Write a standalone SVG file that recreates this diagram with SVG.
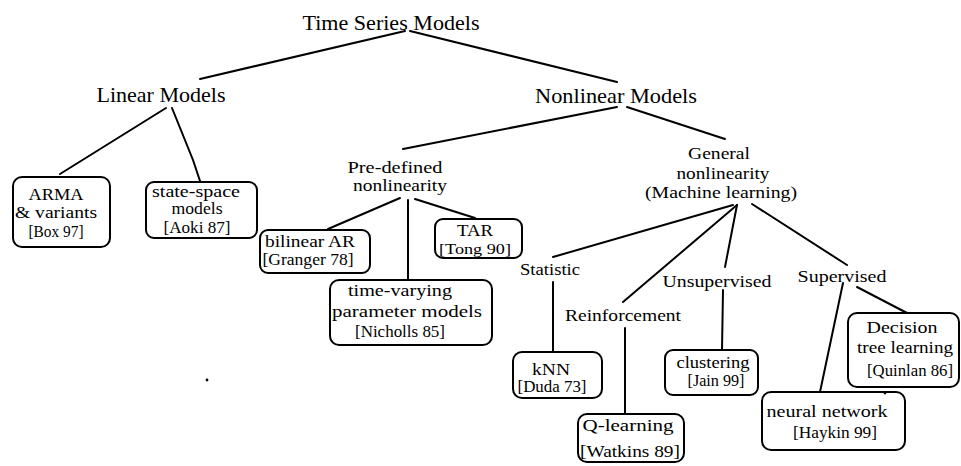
<svg xmlns="http://www.w3.org/2000/svg" width="961" height="466" viewBox="0 0 961 466">
  <style>
    text { font-family: "Liberation Serif", "Times New Roman", serif; fill: #000; text-anchor: middle; }
    .big { font-size: 21px; }
    .lbl { font-size: 17px; }
    .box text { font-size: 16px; }
    .box text.sm { font-size: 14px; }
    .box rect { fill: #fff; stroke: #000; stroke-width: 2; }
    #connectors line, #connectors polyline { stroke: #000; stroke-width: 2; fill: none; stroke-linecap: round; }
  </style>
  <rect width="961" height="466" fill="#fff"/>

  <!-- connectors -->
  <g id="connectors">
    <line x1="405" y1="31" x2="200" y2="79"/>
    <line x1="410" y1="31" x2="617" y2="82"/>
    <line x1="166" y1="108" x2="60" y2="174"/>
    <polyline points="172,108 193,160 200,181"/>
    <line x1="617" y1="107" x2="403" y2="149"/>
    <line x1="627" y1="107" x2="725" y2="139"/>
    <line x1="400" y1="198" x2="328" y2="229"/>
    <line x1="408" y1="200" x2="408" y2="280"/>
    <line x1="415" y1="199" x2="475" y2="218"/>
    <line x1="733" y1="205" x2="553" y2="257"/>
    <line x1="737" y1="205" x2="623" y2="302"/>
    <line x1="737" y1="205" x2="725" y2="267"/>
    <line x1="752" y1="204" x2="847" y2="265"/>
    <line x1="553" y1="282" x2="553" y2="351"/>
    <line x1="625" y1="328" x2="625" y2="414"/>
    <line x1="723" y1="290" x2="722" y2="350"/>
    <line x1="843" y1="283" x2="820" y2="392"/>
    <line x1="857" y1="287" x2="907" y2="313"/>
  </g>

  <!-- category labels -->
  <g id="root"><text class="big" x="391" y="30" textLength="177" lengthAdjust="spacingAndGlyphs">Time Series Models</text></g>
  <g id="linear"><text class="big" x="161" y="102" textLength="129" lengthAdjust="spacingAndGlyphs">Linear Models</text></g>
  <g id="nonlinear"><text class="big" x="616" y="103" textLength="162" lengthAdjust="spacingAndGlyphs">Nonlinear Models</text></g>
  <g id="predefined">
    <text class="lbl" x="395" y="173" textLength="95" lengthAdjust="spacingAndGlyphs">Pre-defined</text>
    <text class="lbl" x="400" y="191" textLength="94" lengthAdjust="spacingAndGlyphs">nonlinearity</text>
  </g>
  <g id="general">
    <text class="lbl" x="719" y="159" textLength="62" lengthAdjust="spacingAndGlyphs">General</text>
    <text class="lbl" x="723" y="179" textLength="93" lengthAdjust="spacingAndGlyphs">nonlinearity</text>
    <text class="lbl" x="721" y="198" textLength="152" lengthAdjust="spacingAndGlyphs">(Machine learning)</text>
  </g>
  <g id="statistic"><text class="lbl" x="550" y="275" textLength="60" lengthAdjust="spacingAndGlyphs">Statistic</text></g>
  <g id="reinforcement"><text class="lbl" x="623" y="321" textLength="116" lengthAdjust="spacingAndGlyphs">Reinforcement</text></g>
  <g id="unsupervised"><text class="lbl" x="717" y="287" textLength="109" lengthAdjust="spacingAndGlyphs">Unsupervised</text></g>
  <g id="supervised"><text class="lbl" x="842" y="282" textLength="89" lengthAdjust="spacingAndGlyphs">Supervised</text></g>

  <!-- model boxes -->
  <g id="arma" class="box">
    <rect x="13" y="177" width="97" height="70" rx="9"/>
    <text x="56" y="200" textLength="55" lengthAdjust="spacingAndGlyphs">ARMA</text>
    <text x="56" y="218" textLength="82" lengthAdjust="spacingAndGlyphs">&amp; variants</text>
    <text x="56" y="237" textLength="55" lengthAdjust="spacingAndGlyphs">[Box 97]</text>
  </g>
  <g id="state-space" class="box">
    <rect x="146" y="182" width="111" height="56" rx="8"/>
    <text x="196" y="197" textLength="88" lengthAdjust="spacingAndGlyphs">state-space</text>
    <text x="197" y="214" textLength="51" lengthAdjust="spacingAndGlyphs">models</text>
    <text x="197" y="233" textLength="67" lengthAdjust="spacingAndGlyphs">[Aoki 87]</text>
  </g>
  <g id="bilinear" class="box">
    <rect x="260" y="230" width="110" height="43" rx="8"/>
    <text x="310" y="247" textLength="90" lengthAdjust="spacingAndGlyphs">bilinear AR</text>
    <text x="308" y="265" textLength="91" lengthAdjust="spacingAndGlyphs">[Granger 78]</text>
  </g>
  <g id="tar" class="box">
    <rect x="435" y="219" width="87" height="39" rx="8"/>
    <text x="475" y="236" textLength="36" lengthAdjust="spacingAndGlyphs">TAR</text>
    <text class="sm" x="475" y="254" textLength="72" lengthAdjust="spacingAndGlyphs">[Tong 90]</text>
  </g>
  <g id="time-varying" class="box">
    <rect x="330" y="280" width="162" height="65" rx="9"/>
    <text x="400" y="296" textLength="104" lengthAdjust="spacingAndGlyphs">time-varying</text>
    <text x="407" y="317" textLength="150" lengthAdjust="spacingAndGlyphs">parameter models</text>
    <text x="400" y="337" textLength="90" lengthAdjust="spacingAndGlyphs">[Nicholls 85]</text>
  </g>
  <g id="knn" class="box">
    <rect x="513" y="352" width="89" height="46" rx="9"/>
    <text x="551" y="375" textLength="38" lengthAdjust="spacingAndGlyphs">kNN</text>
    <text x="552" y="392" textLength="69" lengthAdjust="spacingAndGlyphs">[Duda 73]</text>
  </g>
  <g id="q-learning" class="box">
    <rect x="578" y="414" width="106" height="48" rx="9"/>
    <text x="628" y="431" textLength="91" lengthAdjust="spacingAndGlyphs">Q-learning</text>
    <text x="630" y="457" textLength="100" lengthAdjust="spacingAndGlyphs">[Watkins 89]</text>
  </g>
  <g id="clustering" class="box">
    <rect x="665" y="350" width="93" height="45" rx="8"/>
    <text x="713" y="368" textLength="73" lengthAdjust="spacingAndGlyphs">clustering</text>
    <text x="716" y="386" textLength="57" lengthAdjust="spacingAndGlyphs">[Jain 99]</text>
  </g>
  <g id="neural-network" class="box">
    <rect x="762" y="392" width="143" height="58" rx="9"/>
    <text x="827" y="417" textLength="121" lengthAdjust="spacingAndGlyphs">neural network</text>
    <text x="835" y="438" textLength="84" lengthAdjust="spacingAndGlyphs">[Haykin 99]</text>
  </g>
  <g id="decision-tree" class="box">
    <rect x="848" y="313" width="111" height="74" rx="9"/>
    <text x="902" y="333" textLength="71" lengthAdjust="spacingAndGlyphs">Decision</text>
    <text x="905" y="353" textLength="96" lengthAdjust="spacingAndGlyphs">tree learning</text>
    <text x="910" y="376" textLength="86" lengthAdjust="spacingAndGlyphs">[Quinlan 86]</text>
  </g>

  <!-- stray marks -->
  <circle cx="207" cy="380" r="1.4" fill="#000"/>
  <circle cx="885" cy="393" r="1.4" fill="#000"/>
</svg>
